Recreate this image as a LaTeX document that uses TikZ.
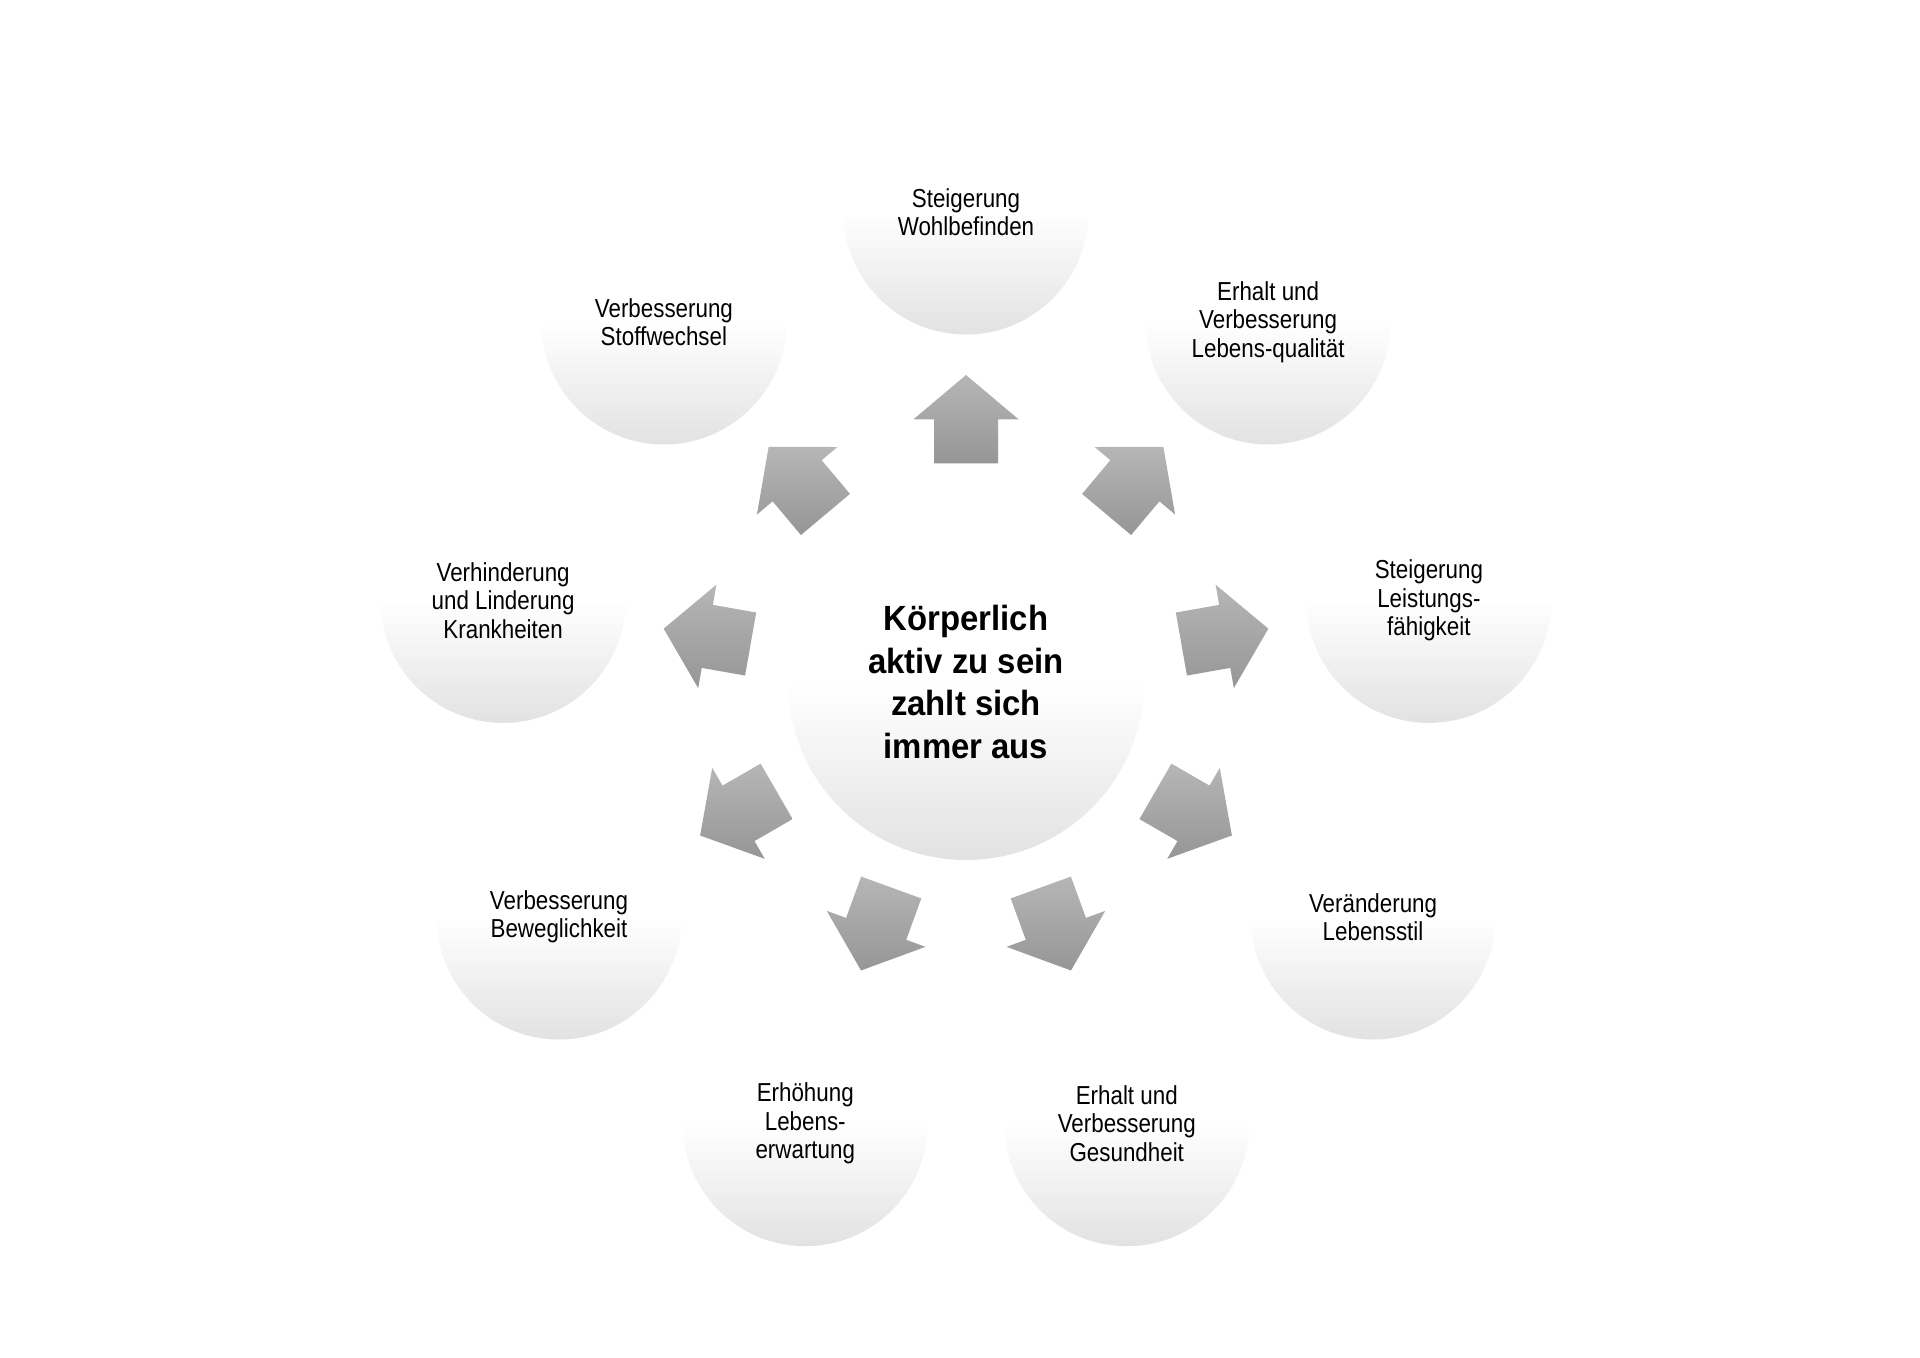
\documentclass[tikz,border=0pt]{standalone}
\usepackage{fontspec}
\setmainfont{Liberation Sans}[FakeStretch=0.86]
\newfontfamily\titlefont{Liberation Sans}[FakeStretch=0.94]
\usetikzlibrary{calc}
\definecolor{circbot}{RGB}{226,226,226}
\definecolor{arrtop}{RGB}{182,182,182}
\definecolor{arrbot}{RGB}{150,150,150}
\tikzset{
  outer/.style={circle, minimum size=122.5pt, inner sep=0pt,
    top color=white, bottom color=circbot, middle color=white,
    align=center, font=\fontsize{13}{14.25}\selectfont, text=black},
  hub/.style={circle, minimum size=178pt, inner sep=0pt,
    top color=white, bottom color=circbot, middle color=white,
    align=center, font=\titlefont\bfseries\fontsize{17.5}{21.25}\selectfont, text=black},
  blockarrow/.style={top color=arrtop, bottom color=arrbot, draw=none}
}
\begin{document}
\begin{tikzpicture}[x=0.5pt,y=0.5pt]
\fill[white] (0,0) rectangle (1920,1357);
\useasboundingbox (0,0) rectangle (1920,1357);
\coordinate (M) at (966,675);
\node[hub] (main) at (M) {Körperlich\\aktiv zu sein\\zahlt sich\\immer aus};
\node[outer] (c1) at ($(M)+(90:470)$) {Steigerung\\Wohlbefinden};
\node[outer] (c2) at ($(M)+(50:470)$) {Erhalt und\\Verbesserung\\Lebens-qualität};
\node[outer] (c3) at ($(M)+(10:470)$) {Steigerung\\Leistungs-\\fähigkeit};
\node[outer] (c4) at ($(M)+(-30:470)$) {Veränderung\\Lebensstil};
\node[outer] (c5) at ($(M)+(-70:470)$) {Erhalt und\\Verbesserung\\Gesundheit};
\node[outer] (c6) at ($(M)+(-110:470)$) {Erhöhung\\Lebens-\\erwartung};
\node[outer] (c7) at ($(M)+(-150:470)$) {Verbesserung\\Beweglichkeit};
\node[outer] (c8) at ($(M)+(170:470)$) {Verhinderung\\und Linderung\\Krankheiten};
\node[outer] (c9) at ($(M)+(130:470)$) {Verbesserung\\Stoffwechsel};
\foreach \a in {90,50,10,-30,-70,-110,-150,170,130}{
  \shade[blockarrow] ($(M)+(\a:307)$)
    -- ($(M)+(\a:262.7)+(\a+90:52.5)$)
    -- ($(M)+(\a:262.7)+(\a+90:32)$)
    -- ($(M)+(\a:218.7)+(\a+90:32)$)
    -- ($(M)+(\a:218.7)+(\a-90:32)$)
    -- ($(M)+(\a:262.7)+(\a-90:32)$)
    -- ($(M)+(\a:262.7)+(\a-90:52.5)$)
    -- cycle;
}
\end{tikzpicture}
\end{document}
